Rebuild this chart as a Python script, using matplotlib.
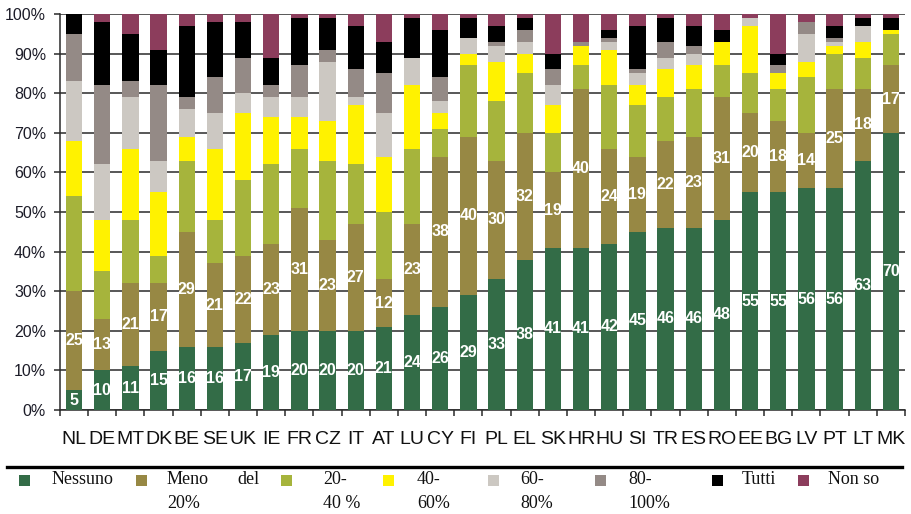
import matplotlib
matplotlib.use("Agg")
import matplotlib.pyplot as plt
import numpy as np
from matplotlib.lines import Line2D
from matplotlib.patches import Rectangle

countries = ["NL", "DE", "MT", "DK", "BE", "SE", "UK", "IE", "FR", "CZ", "IT", "AT", "LU", "CY", "FI",
             "PL", "EL", "SK", "HR", "HU", "SI", "TR", "ES", "RO", "EE", "BG", "LV", "PT", "LT", "MK"]

nessuno = [5, 10, 11, 15, 16, 16, 17, 19, 20, 20, 20, 21, 24, 26, 29, 33, 38, 41, 41, 42, 45, 46, 46, 48, 55, 55, 56, 56, 63, 70]
meno20 = [25, 13, 21, 17, 29, 21, 22, 23, 31, 23, 27, 12, 23, 38, 40, 30, 32, 19, 40, 24, 19, 22, 23, 31, 20, 18, 14, 25, 18, 17]
p20_40 = [24, 12, 16, 7, 18, 11, 19, 20, 15, 20, 15, 17, 19, 7, 18, 15, 15, 10, 6, 16, 13, 11, 12, 8, 10, 8, 14, 9, 8, 8]
p40_60 = [14, 13, 18, 16, 6, 18, 17, 12, 8, 10, 15, 14, 16, 4, 3, 10, 5, 7, 5, 9, 5, 7, 6, 6, 12, 4, 4, 2, 4, 1]
p60_80 = [15, 14, 13, 8, 7, 9, 5, 5, 5, 15, 2, 11, 7, 3, 4, 4, 3, 5, 0, 2, 3, 3, 3, 0, 2, 0, 7, 1, 4, 0]
p80_100 = [12, 20, 4, 19, 3, 9, 9, 3, 8, 3, 7, 10, 0, 6, 0, 1, 3, 4, 1, 1, 1, 4, 2, 0, 0, 2, 3, 1, 0, 0]
tutti = [5, 16, 12, 9, 18, 14, 9, 7, 12, 8, 11, 8, 10, 12, 5, 4, 3, 4, 0, 2, 11, 6, 5, 3, 0, 3, 0, 3, 2, 3]
non_so = [0, 2, 5, 9, 3, 2, 2, 11, 1, 1, 3, 7, 1, 4, 1, 3, 1, 10, 7, 4, 3, 1, 3, 4, 1, 10, 2, 3, 1, 1]

series = [nessuno, meno20, p20_40, p40_60, p60_80, p80_100, tutti, non_so]
colors = ["#336c47", "#978844", "#a6b43c", "#fff200", "#ccc8c2", "#948a86", "#000000", "#8c3d5c"]
yticks = [0, 10, 20, 30, 40, 50, 60, 70, 80, 90, 100]

narrow = ["Liberation Sans Narrow", "Liberation Sans", "DejaVu Sans"]

fig = plt.figure(figsize=(9.12, 5.14), dpi=100)
ax = fig.add_axes([60 / 912, 1 - 410 / 514, 845 / 912, 396 / 514])

x = np.arange(len(countries))
bottom = np.zeros(len(countries))
for i, (vals, col) in enumerate(zip(series, colors)):
    v = np.array(vals, dtype=float)
    ax.bar(x, v, bottom=bottom, width=0.58, color=col, linewidth=0, zorder=3)
    if i < 2:
        for xi, b, h in zip(x, bottom, v):
            ax.text(xi, b + h / 2, f"{int(h)}", ha="center", va="center", color="white",
                    fontsize=11.5, fontweight="bold", family=narrow, zorder=4)
    bottom += v

ax.set_xlim(-0.5, len(countries) - 0.5)
ax.set_ylim(0, 100)
ax.set_yticks(yticks)
ax.set_yticklabels([f"{t}%" for t in yticks], family=["Liberation Sans", "DejaVu Sans"],
                   fontsize=11.5, color="#1c1c28")
ax.yaxis.grid(True, color="#2a2a2a", linewidth=1.1, zorder=0)
ax.tick_params(axis="y", length=4, width=1.1, color="#2a2a2a", pad=6)

ax.set_xticks(x)
ax.set_xticklabels(countries, family=narrow, fontsize=14, color="#111111")
ax.set_xticks(np.arange(-0.5, len(countries), 1.0), minor=True)
ax.tick_params(axis="x", which="major", length=0, pad=15)
ax.tick_params(axis="x", which="minor", length=4, width=1.1, color="#2a2a2a")

for s in ["top", "right"]:
    ax.spines[s].set_visible(False)
ax.spines["left"].set_color("#2a2a2a")
ax.spines["left"].set_linewidth(1.1)
ax.spines["bottom"].set_color("#2a2a2a")
ax.spines["bottom"].set_linewidth(1.1)
ax.set_axisbelow(True)

# Horizontal rule above the legend
fig.add_artist(Line2D([7 / 912, 902 / 912], [1 - 467 / 514, 1 - 467 / 514],
                      color="black", linewidth=2.4, transform=fig.transFigure))

# Legend built manually
serif = ["Liberation Serif", "DejaVu Serif"]
sq = 11
legend_items = [
    (25, 52, ["Nessuno"], None),
    (141, 167, ["Meno", "20%"], (237, "del")),
    (286, 323, ["20-", "40 %"], None),
    (389, 417, ["40-", "60%"], None),
    (494, 520, ["60-", "80%"], None),
    (601, 628, ["80-", "100%"], None),
    (718, 742, ["Tutti"], None),
    (804, 828, ["Non so"], None),
]
y1 = 480
y2 = 503
for (sx, tx, lines, extra), col in zip(legend_items, colors):
    fig.patches.append(Rectangle(((sx - sq / 2) / 912, 1 - (y1 + sq / 2) / 514), sq / 912, sq / 514,
                                 transform=fig.transFigure, facecolor=col, edgecolor="none"))
    fig.text(tx / 912, 1 - y1 / 514, lines[0], family=serif, fontsize=13, va="center", ha="left",
             color="#111111")
    if len(lines) > 1:
        fig.text(tx / 912, 1 - y2 / 514, lines[1], family=serif, fontsize=13, va="center", ha="left",
                 color="#111111")
    if extra is not None:
        fig.text(extra[0] / 912, 1 - y1 / 514, extra[1], family=serif, fontsize=13, va="center",
                 ha="left", color="#111111")

fig.savefig("out.png", dpi=100)
